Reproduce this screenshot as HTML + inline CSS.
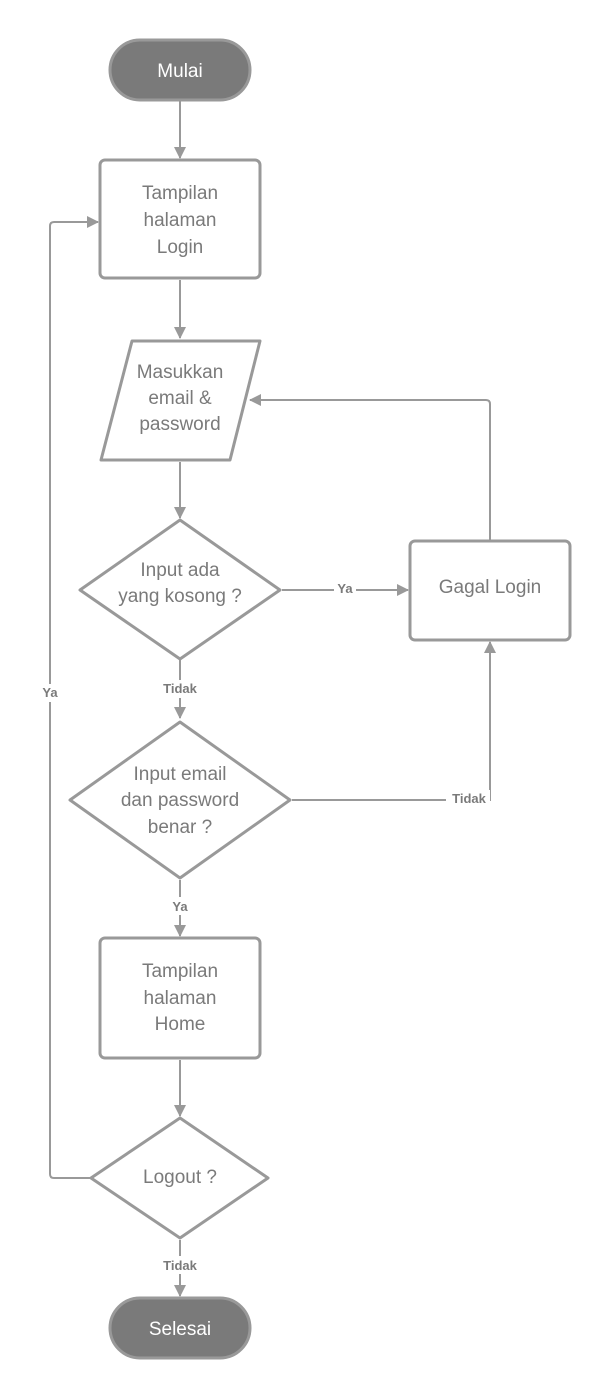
<!DOCTYPE html>
<html><head><meta charset="utf-8"><style>
html,body{margin:0;padding:0;background:#fff;}
svg{display:block;}
text{font-family:"Liberation Sans",sans-serif;}
.t{font-size:19px;fill:#7a7a7a;text-anchor:middle;}
.w{font-size:19px;fill:#fff;text-anchor:middle;}
.l{font-size:13px;font-weight:bold;fill:#7a7a7a;text-anchor:middle;}
</style></head><body>
<svg width="610" height="1399" viewBox="0 0 610 1399" xmlns="http://www.w3.org/2000/svg">
<defs><marker id="a" markerWidth="12" markerHeight="12" refX="11" refY="6" orient="auto" markerUnits="userSpaceOnUse"><path d="M0,0 L12,6 L0,12 z" fill="#999"/></marker></defs>
<g fill="none" stroke="#999" stroke-width="2">
<line x1="180" y1="100" x2="180" y2="158" marker-end="url(#a)"/>
<line x1="180" y1="280" x2="180" y2="338" marker-end="url(#a)"/>
<line x1="180" y1="462" x2="180" y2="518" marker-end="url(#a)"/>
<polyline points="180,660 180,718" marker-end="url(#a)"/>
<line x1="282" y1="590" x2="408" y2="590" marker-end="url(#a)"/>
<path d="M490,540 L490,404 Q490,400 486,400 L250,400" marker-end="url(#a)"/>
<polyline points="292,800 490,800 490,642" marker-end="url(#a)"/>
<line x1="180" y1="880" x2="180" y2="936" marker-end="url(#a)"/>
<line x1="180" y1="1060" x2="180" y2="1116" marker-end="url(#a)"/>
<line x1="180" y1="1240" x2="180" y2="1296" marker-end="url(#a)"/>
<path d="M90,1178 L54,1178 Q50,1178 50,1174 L50,226 Q50,222 54,222 L98,222" marker-end="url(#a)"/>
</g>
<g stroke="#999" stroke-width="3" fill="#fff" stroke-linejoin="round">
<rect x="110" y="40" width="140" height="60" rx="30" fill="#7a7a7a"/>
<rect x="100" y="160" width="160" height="118" rx="5"/>
<path d="M132,341 L260,341 L230,460 L101,460 Z"/>
<path d="M180,520 L280,590 L180,659 L80,590 Z"/>
<rect x="410" y="541" width="160" height="99" rx="5"/>
<path d="M180,722 L290,800 L180,878 L70,800 Z"/>
<rect x="100" y="938" width="160" height="120" rx="5"/>
<path d="M180,1118 L268,1178 L180,1238 L91,1178 Z"/>
<rect x="110" y="1298" width="140" height="60" rx="30" fill="#7a7a7a"/>
</g>
<text class="w" x="180" y="77">Mulai</text>
<text class="t" x="180" y="199">Tampilan</text>
<text class="t" x="180" y="226">halaman</text>
<text class="t" x="180" y="253">Login</text>
<text class="t" x="180" y="378">Masukkan</text>
<text class="t" x="180" y="404">email &amp;</text>
<text class="t" x="180" y="430">password</text>
<text class="t" x="180" y="576">Input ada</text>
<text class="t" x="180" y="602">yang kosong ?</text>
<text class="t" x="490" y="593">Gagal Login</text>
<text class="t" x="180" y="780">Input email</text>
<text class="t" x="180" y="806">dan password</text>
<text class="t" x="180" y="833">benar ?</text>
<text class="t" x="180" y="977">Tampilan</text>
<text class="t" x="180" y="1004">halaman</text>
<text class="t" x="180" y="1030">Home</text>
<text class="t" x="180" y="1183">Logout ?</text>
<text class="w" x="180" y="1335">Selesai</text>
<rect x="334" y="580" width="22" height="18" fill="#fff"/>
<text class="l" x="345" y="593">Ya</text>
<rect x="158" y="680" width="44" height="18" fill="#fff"/>
<text class="l" x="180" y="693">Tidak</text>
<rect x="446" y="790" width="44" height="18" fill="#fff"/>
<text class="l" x="469" y="803">Tidak</text>
<rect x="168" y="897" width="24" height="18" fill="#fff"/>
<text class="l" x="180" y="911">Ya</text>
<rect x="38" y="684" width="24" height="18" fill="#fff"/>
<text class="l" x="50" y="697">Ya</text>
<rect x="158" y="1256" width="44" height="18" fill="#fff"/>
<text class="l" x="180" y="1270">Tidak</text>
</svg>
</body></html>
